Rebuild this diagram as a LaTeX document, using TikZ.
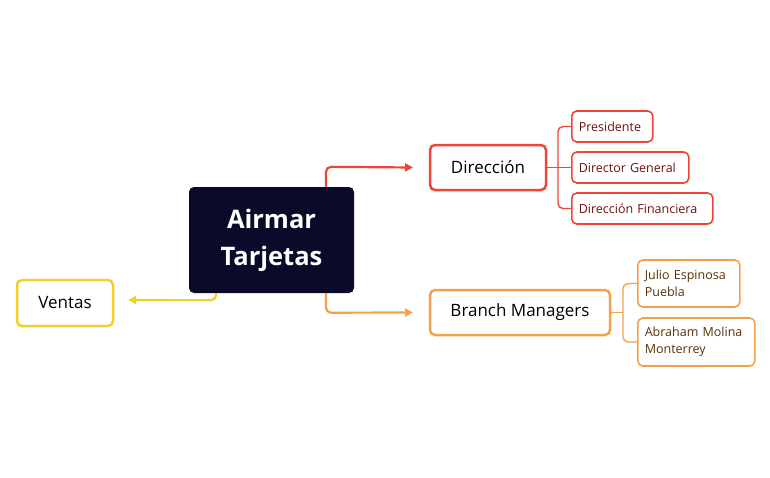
\documentclass[tikz,border=0pt]{standalone}
\usepackage{fontspec}
\setmainfont{Open Sans}
\usetikzlibrary{arrows.meta}
\definecolor{navy}{HTML}{0A0A2A}
\definecolor{yel}{HTML}{F2D02A}
\definecolor{red1}{HTML}{F0443A}
\definecolor{ora}{HTML}{F5A04A}
\definecolor{rtxt}{HTML}{6E1010}
\definecolor{otxt}{HTML}{5A3208}
\begin{document}
\begin{tikzpicture}[x=1pt,y=-1pt,
 box/.style={draw,rounded corners=5pt,line width=2.5pt,fill=white,inner sep=0pt,font=\fontsize{17}{20}\selectfont},
 sub/.style={draw,rounded corners=5pt,line width=1.6pt,fill=white,inner xsep=7pt,inner ysep=0pt,anchor=west,font=\fontsize{12.5}{17}\selectfont,align=left},
 conn/.style={line width=2.2pt,rounded corners=5pt},
 sconn/.style={line width=1.4pt,rounded corners=5pt}]
\useasboundingbox (0,0) rectangle (770,477);
\node[fill=navy,rounded corners=5pt,minimum width=165pt,minimum height=106pt,text=white,align=center,font=\bfseries\fontsize{25.5}{37}\selectfont] (c) at (271.5,240) {Airmar\\Tarjetas};
\node[box,draw=yel,minimum width=96pt,minimum height=46pt] (v) at (65,303) {Ventas};
\node[box,draw=red1,minimum width=116pt,minimum height=45pt] (d) at (488,167.5) {Dirección};
\node[box,draw=ora,minimum width=180pt,minimum height=45pt] (b) at (520,312.5) {Branch Managers};
\node[sub,draw=red1,text=rtxt,minimum height=31pt,text width=67pt] (p1) at (571,126.5) {Presidente};
\node[sub,draw=red1,text=rtxt,minimum height=31pt,text width=103pt] (p2) at (571,167.5) {Director General};
\node[sub,draw=red1,text=rtxt,minimum height=31pt,text width=127pt] (p3) at (571,208.5) {Dirección Financiera};
\node[sub,draw=ora,text=otxt,minimum height=47pt,text width=88pt] (j) at (637,283.5) {Julio Espinosa\\Puebla};
\node[sub,draw=ora,text=otxt,minimum height=48pt,text width=103pt] (a) at (637,342) {Abraham Molina\\Monterrey};
\draw[conn,red1,-{Triangle[length=8pt,width=8pt]}] ([xshift=54.5pt]c.north) -- ++(0,-20) -- (413,167.5);
\draw[conn,ora,-{Triangle[length=8pt,width=8pt]}] ([xshift=54.5pt]c.south) -- ++(0,19.5) -- (413,312.5);
\draw[conn,yel,-{Triangle[length=8pt,width=8pt]}] ([xshift=-55.5pt]c.south) -- ++(0,7) -- (128,300);
\draw[sconn,red1] (d.east) -- (p2.west);
\draw[sconn,red1] (558,167.5) -- (558,126.5) -- (p1.west);
\draw[sconn,red1] (558,167.5) -- (558,208.5) -- (p3.west);
\draw[sconn,ora] (b.east) -- (623,312.5);
\draw[sconn,ora] (623,312.5) -- (623,283.5) -- (j.west);
\draw[sconn,ora] (623,312.5) -- (623,342) -- (a.west);
\end{tikzpicture}
\end{document}
